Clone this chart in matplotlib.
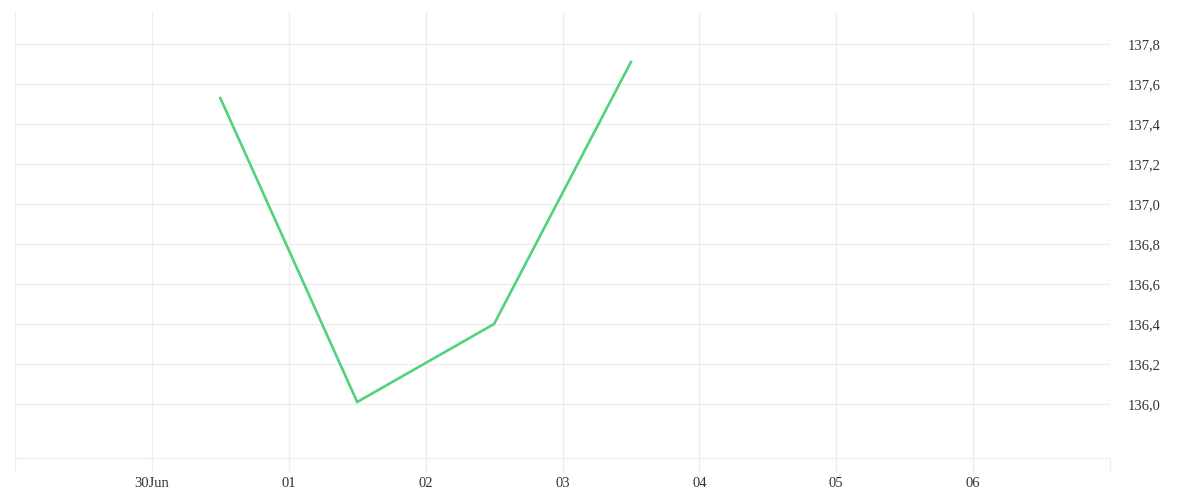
import matplotlib
matplotlib.use("Agg")
import matplotlib.pyplot as plt
import matplotlib.dates as mdates
import matplotlib.ticker as mticker
import numpy as np
from datetime import datetime

# Data
dates = ["2023-06-30 12:00", "2023-07-01 12:00", "2023-07-02 12:00", "2023-07-03 12:00"]
values = [137.53, 136.01, 136.40, 137.71]
tick_days = ["2023-06-29", "2023-06-30", "2023-07-01", "2023-07-02", "2023-07-03",
             "2023-07-04", "2023-07-05", "2023-07-06", "2023-07-07"]
tick_labels = ["", "30Jun", "01", "02", "03", "04", "05", "06", ""]
y_ticks = [136.0, 136.2, 136.4, 136.6, 136.8, 137.0, 137.2, 137.4, 137.6, 137.8]

plt.rcParams['font.family'] = ['Liberation Serif', 'DejaVu Serif']

x = [datetime.strptime(d, "%Y-%m-%d %H:%M") for d in dates]
xt = [datetime.strptime(d, "%Y-%m-%d") for d in tick_days]

fig = plt.figure(figsize=(12, 5), dpi=100)
ax = fig.add_axes([15/1200, 42/500, 1095/1200, 446/500])

grid_c = "#eeeeee"
ax.plot(x, values, color="#52d27c", linewidth=1.9, solid_joinstyle="miter", zorder=3)

ax.set_xlim(mdates.date2num(xt[0]), mdates.date2num(xt[-1]))
ax.set_ylim(135.73, 137.96)

ax.set_xticks(xt)
ax.set_xticklabels(tick_labels)
ax.set_yticks(y_ticks)
ax.yaxis.set_major_formatter(mticker.FuncFormatter(lambda v, p: f"{v:.1f}".replace(".", ",")))
ax.yaxis.tick_right()

ax.grid(True, color=grid_c, linewidth=1)
ax.tick_params(axis="x", length=10, color=grid_c, width=1, labelsize=10.5, labelcolor="#333333", pad=4)
ax.tick_params(axis="y", length=0, labelsize=10.5, labelcolor="#333333", pad=13)

for s in ["top", "left", "right"]:
    ax.spines[s].set_visible(False)
ax.spines["bottom"].set_color(grid_c)

fig.savefig("out.png", dpi=100, facecolor="white")
